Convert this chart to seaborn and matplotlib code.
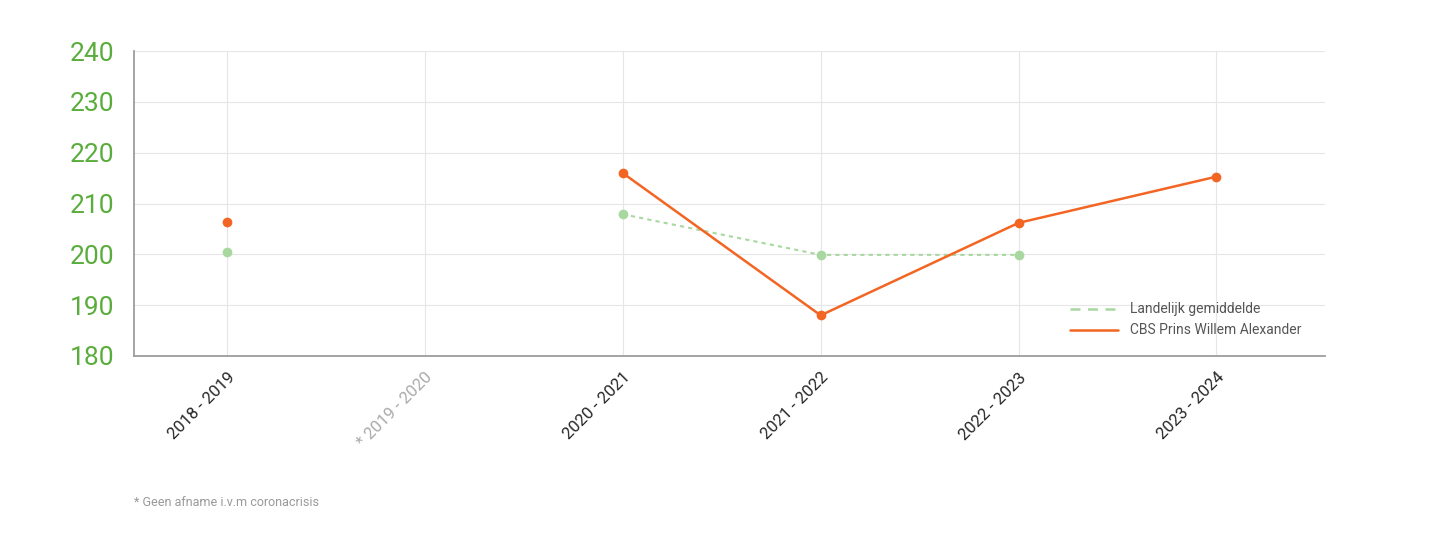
import matplotlib
matplotlib.use("Agg")
import matplotlib.pyplot as plt
from matplotlib.lines import Line2D
import seaborn as sns
import numpy as np
import pandas as pd

years = ["2018 - 2019", "* 2019 - 2020", "2020 - 2021", "2021 - 2022", "2022 - 2023", "2023 - 2024"]
school = [206.3, np.nan, 216.0, 188.0, 206.2, 215.3]
national = [200.4, np.nan, 207.9, 199.9, 199.9, np.nan]
yticks = [180, 190, 200, 210, 220, 230, 240]

sns.set_theme(style="whitegrid")
plt.rcParams['font.family'] = ['Roboto', 'DejaVu Sans']
fig = plt.figure(figsize=(14.44, 5.44), dpi=100)
ax = fig.add_axes([0.0928, 0.3456, 0.825, 0.5604])

x = np.arange(len(years))
orange = "#f26522"
green = "#a8d8a0"

def segs(vals):
    v = pd.Series(vals)
    seg = v.isna().cumsum()
    d = pd.DataFrame({"x": x, "y": v, "seg": seg}).dropna()
    return d

dn = segs(national)
ds = segs(school)
sns.lineplot(data=dn, x="x", y="y", units="seg", estimator=None, ax=ax, color=green,
             linestyle=(0, (2, 2)), lw=1.5, marker="o", markersize=7, markeredgewidth=0, legend=False)
sns.lineplot(data=ds, x="x", y="y", units="seg", estimator=None, ax=ax, color=orange,
             lw=1.8, marker="o", markersize=7, markeredgewidth=0, legend=False)

ax.set_xlim(-0.47, 5.55)
ax.set_ylim(180, 240)
ax.set_yticks(yticks)
ax.set_yticklabels([str(v) for v in yticks], color="#5aad3c", fontsize=19)
ax.set_xticks(x)
ax.set_xticklabels(years, rotation=45, ha="right", rotation_mode="anchor", fontsize=12)
ax.get_xticklabels()[1].set_color("#aaaaaa")
ax.set_xlabel("")
ax.set_ylabel("")
ax.grid(True, color="#e6e6e6", lw=0.8)
for s in ["top", "right"]:
    ax.spines[s].set_visible(False)
ax.spines["left"].set_color("#999999")
ax.spines["bottom"].set_color("#999999")
ax.tick_params(axis="y", pad=14, length=0)
ax.tick_params(axis="x", pad=10, length=0)

handles = [Line2D([], [], color=green, lw=1.8, linestyle=(0, (4, 3))),
           Line2D([], [], color=orange, lw=1.8)]
leg = ax.legend(handles, ["Landelijk gemiddelde", "CBS Prins Willem Alexander"], loc="lower right",
                bbox_to_anchor=(0.99, 0.02), frameon=False, fontsize=10, handlelength=3.5)
for t in leg.get_texts():
    t.set_color("#555555")

fig.text(134/1444, 1 - 502/544, "* Geen afname i.v.m coronacrisis", fontsize=9, color="#999999", va="center")
fig.savefig("out.png", dpi=100, facecolor="white")
